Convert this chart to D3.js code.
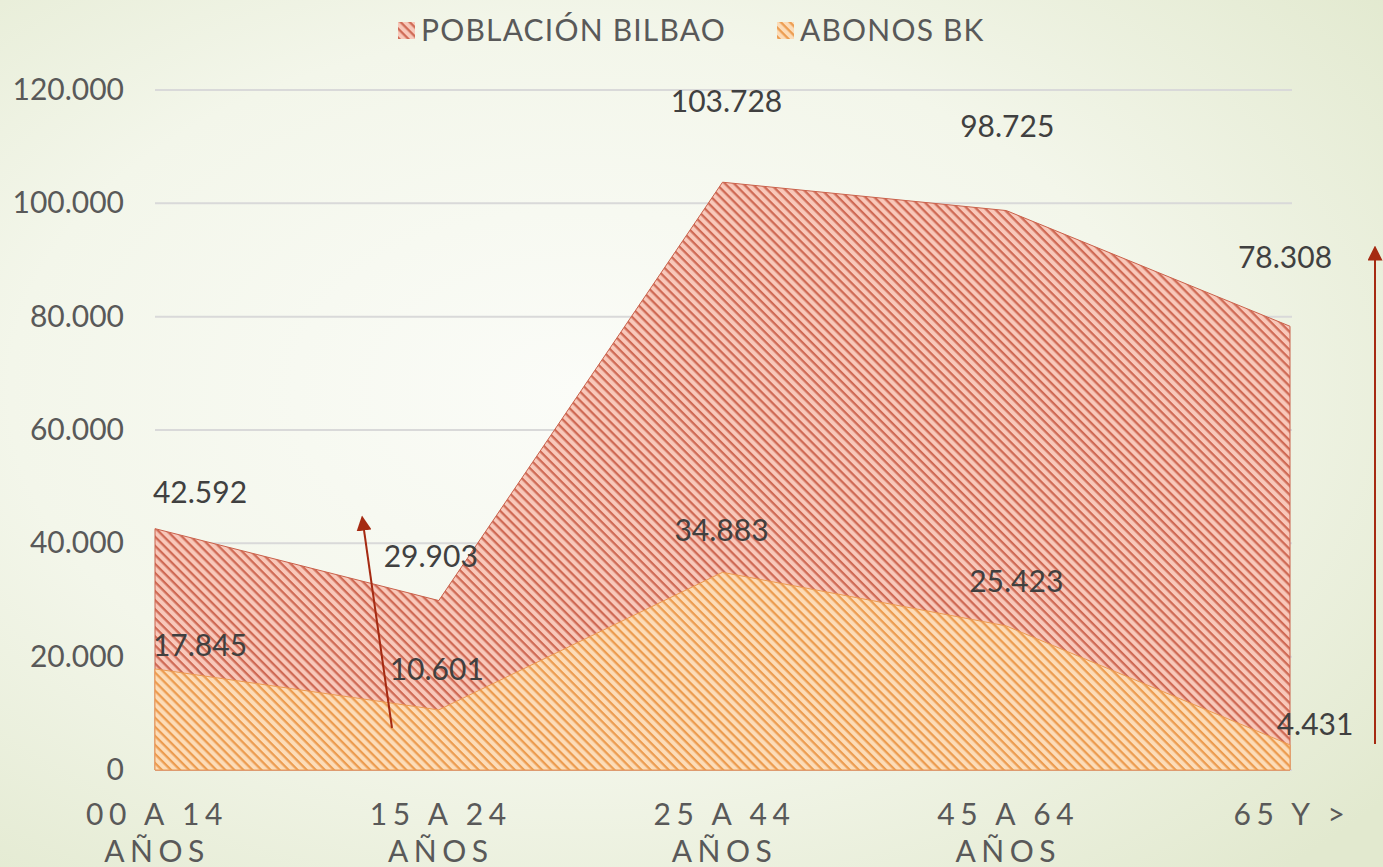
<!DOCTYPE html>
<html><head><meta charset="utf-8">
<script src="https://cdn.jsdelivr.net/npm/d3@7"></script>
<style>html,body{margin:0;padding:0;overflow:hidden;}svg{display:block;}</style>
</head><body>
<svg id="chart" width="1383" height="867"></svg>
<script>
const categories = ["00 A 14|AÑOS", "15 A 24|AÑOS", "25 A 44|AÑOS", "45 A 64|AÑOS", "65 Y >"];
const poblacion = [42592, 29903, 103728, 98725, 78308];
const abonos = [17845, 10601, 34883, 25423, 4431];
const yTicks = [0, 20000, 40000, 60000, 80000, 100000, 120000];
const seriesNames = ["POBLACIÓN BILBAO", "ABONOS BK"];

const W = 1383, H = 867;
const svg = d3.select("#chart");
const defs = svg.append("defs");

const bg = defs.append("radialGradient").attr("id","bg").attr("cx","42%").attr("cy","45%").attr("r","75%");
bg.append("stop").attr("offset","0%").attr("stop-color","#fbfcf8");
bg.append("stop").attr("offset","55%").attr("stop-color","#f3f6ea");
bg.append("stop").attr("offset","100%").attr("stop-color","#e2e9cf");
svg.append("rect").attr("width",W).attr("height",H).attr("fill","url(#bg)");

function hatch(id, bgc, fg){
  const p = defs.append("pattern").attr("id",id).attr("patternUnits","userSpaceOnUse")
    .attr("width",6.4).attr("height",6.4).attr("patternTransform","rotate(45)");
  p.append("rect").attr("width",6.4).attr("height",6.4).attr("fill",bgc);
  p.append("rect").attr("y",0).attr("width",6.4).attr("height",2.3).attr("fill",fg).attr("opacity",0.8);
}
hatch("hPob","#f8c8ba","#c4533c");
hatch("hAbo","#fcdcb8","#e88c36");

const x = d3.scalePoint().domain(d3.range(categories.length)).range([155, 1290]);
const y = d3.scaleLinear().domain([0, 120000]).range([770, 90]);

// gridlines
svg.append("g").selectAll("line").data(yTicks).join("line")
  .attr("x1",155).attr("x2",1292).attr("y1",d=>y(d)).attr("y2",d=>y(d))
  .attr("stroke","#d9d9d9").attr("stroke-width",2);

// y axis labels
const fmt = d => d===0 ? "0" : d3.format(",")(d).replace(/,/g,".");
const yAxis = d3.axisLeft(y).tickValues(yTicks).tickFormat(fmt).tickSize(0).tickPadding(0);
const ya = svg.append("g").attr("transform","translate(124,0)").call(yAxis);
ya.select(".domain").remove();
ya.selectAll("text").attr("font-family","Lato, sans-serif").attr("font-size",30).attr("fill","#595959");

const area = d3.area().x((d,i)=>x(i)).y0(y(0)).y1(d=>y(d));
svg.append("path").datum(poblacion).attr("d",area).attr("fill","url(#hPob)")
  .attr("stroke","#c9604a").attr("stroke-width",1);
svg.append("path").datum(abonos).attr("d",area).attr("fill","url(#hAbo)")
  .attr("stroke","#eb9a50").attr("stroke-width",1);

// x labels
const xg = svg.append("g");
categories.forEach((c,i)=>{
  const lines = c.split("|");
  const t = xg.append("text").attr("x",x(i)).attr("text-anchor","middle")
    .attr("font-family","Lato, sans-serif").attr("font-size",30).attr("fill","#595959")
    .attr("letter-spacing","5.5px");
  lines.forEach((l,k)=>t.append("tspan").attr("x",x(i)+2).attr("y",825+k*37).text(l));
});

// data labels
const lbl = (v,px,py)=>svg.append("text").attr("x",px).attr("y",py).attr("text-anchor","middle")
  .attr("font-family","Lato, sans-serif").attr("font-size",30).attr("fill","#404040").text(fmt(v));
const pobOff = [[45,-26],[-8,-34],[4,-70],[1,-74],[-5,-58]];
const aboOff = [[45,-13],[-2,-30],[-1,-31],[10,-34],[25,-10]];
poblacion.forEach((v,i)=>lbl(v, x(i)+pobOff[i][0], y(v)+pobOff[i][1]));
abonos.forEach((v,i)=>lbl(v, x(i)+aboOff[i][0], y(v)+aboOff[i][1]));

// legend
const lg = svg.append("g");
const legItems = [{n:seriesNames[0], f:"url(#hPob)", x:398},{n:seriesNames[1], f:"url(#hAbo)", x:777}];
legItems.forEach(d=>{
  lg.append("rect").attr("x",d.x).attr("y",22).attr("width",17).attr("height",17).attr("fill",d.f);
  lg.append("text").attr("x",d.x+23).attr("y",41).attr("font-family","Lato, sans-serif")
    .attr("font-size",30).attr("fill","#595959").attr("letter-spacing","1.2px").text(d.n);
});

// arrows
const mk = defs.append("marker").attr("id","arr").attr("viewBox","0 0 10 10").attr("refX",5).attr("refY",5)
  .attr("markerWidth",7.5).attr("markerHeight",7.5).attr("orient","auto-start-reverse");
mk.append("path").attr("d","M0,0 L10,5 L0,10 Z").attr("fill","#a52a12");
svg.append("line").attr("x1",392).attr("y1",728).attr("x2",363).attr("y2",523)
  .attr("stroke","#a52a12").attr("stroke-width",2).attr("marker-end","url(#arr)");
svg.append("line").attr("x1",1375).attr("y1",744).attr("x2",1375).attr("y2",253)
  .attr("stroke","#a52a12").attr("stroke-width",2).attr("marker-end","url(#arr)");
</script>
</body></html>
